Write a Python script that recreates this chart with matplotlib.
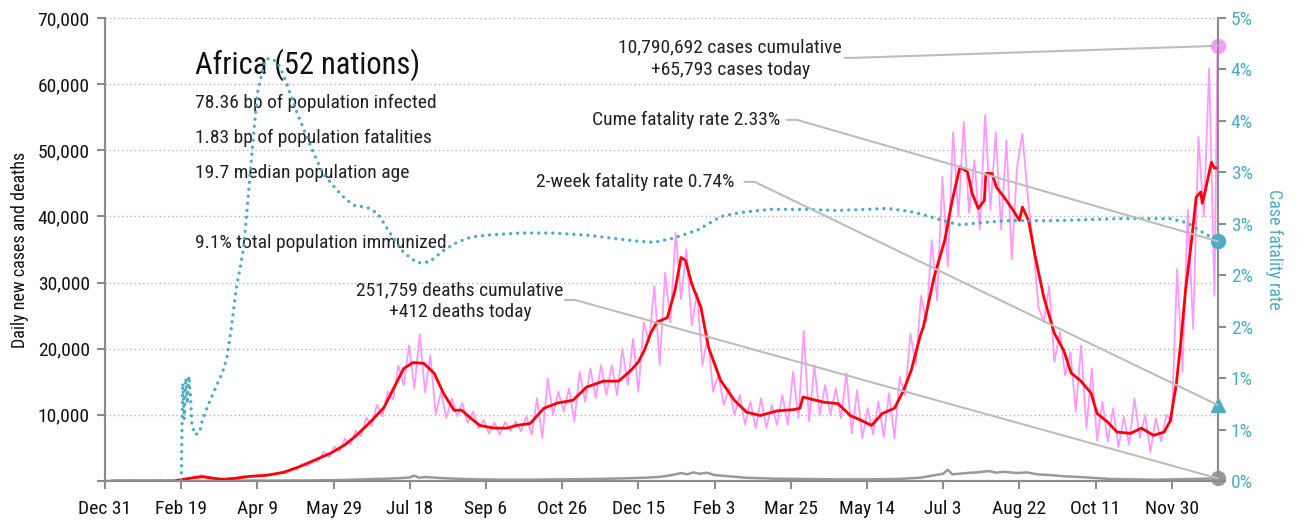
import numpy as np
import matplotlib
matplotlib.use('Agg')
import matplotlib.pyplot as plt
from matplotlib import font_manager
from matplotlib.lines import Line2D
from matplotlib.ticker import FuncFormatter

# day 0 = Dec 31 2019, last day = Dec 30 2021
start_date = np.datetime64('2019-12-31')
last_day = 730

# daily new cases, one value every 3.5 days (rows of four weeks)
cases_daily = [
    0, 0, 0, 0, 0, 0, 0, 0,
    0, 0, 0, 0, 0, 0, 0, 100,
    400, 600, 900, 700, 500, 200, 150, 200,
    350, 500, 750, 600, 800, 900, 850, 1000,
    1100, 1300, 1200, 1700, 1800, 2600, 2300, 3000,
    3000, 4400, 3600, 5200, 4500, 6400, 5500, 7600,
    6800, 9600, 8300, 11500, 9800, 13500, 12300, 17500,
    14500, 20500, 14000, 22200, 13400, 19000, 10000, 13500,
    9500, 12500, 9800, 11800, 8800, 10500, 8000, 9200,
    7200, 8800, 7000, 8900, 7600, 9000, 7500, 9800,
    7000, 12500, 6500, 15500, 10000, 13500, 10500, 14000,
    9000, 16500, 12000, 17000, 12500, 17500, 13000, 17500,
    13000, 20000, 14500, 21500, 13500, 24000, 21000, 29500,
    17500, 31500, 24000, 37500, 27500, 35000, 23500, 28500,
    17500, 22000, 13500, 16000, 11500, 14000, 10000, 13000,
    8500, 12000, 8000, 12500, 8000, 11500, 8500, 13000,
    8500, 16500, 9500, 22700, 9000, 17500, 10000, 14500,
    10000, 14000, 9500, 16300, 7200, 13700, 6500, 11000,
    7000, 12000, 6600, 13300, 6400, 15700, 13000, 22300,
    17500, 28000, 24000, 36400, 27300, 46000, 32400, 52700,
    40000, 54300, 40500, 48500, 38000, 55300, 41000, 52700,
    38000, 51500, 33500, 47500, 52500, 43000, 36000, 26300,
    24000, 29500, 18000, 22500, 16000, 19500, 10500, 20500,
    8000, 17000, 6100, 12000, 6000, 11000, 5100, 9700,
    5500, 12500, 6500, 10000, 4400, 9500, 6000, 10000,
    9000, 32000, 16500, 41000, 23000, 52000, 40000, 62400,
    28000,
]
cases_today = 65793
cases_total = 10790692

# 7-day average of new cases
avg_days = [6, 45, 50, 58, 64, 70, 77, 85, 95, 106, 117, 128, 139, 148, 157, 165,
            174, 183, 192, 196, 202, 209, 216, 222, 229, 234, 240, 246, 255, 264,
            270, 279, 288, 297, 307, 316, 327, 337, 345, 350, 354, 358, 362, 369,
            374, 378, 381, 385, 391, 396, 404, 413, 421, 430, 441, 452, 456, 458,
            463, 472, 481, 489, 496, 503, 510, 518, 524, 529, 535, 537, 544, 551,
            556, 561, 566, 569, 573, 577, 578, 582, 585, 590, 596, 600, 602, 606,
            610, 616, 623, 629, 634, 640, 647, 651, 658, 664, 673, 680, 688, 695,
            699, 703, 706, 709, 713, 716, 719, 720, 722, 726, 728, 730]
avg_cases = [0, 0, 200, 500, 650, 450, 250, 400, 700, 860, 1300, 2200, 3300, 4200,
             5400, 6900, 8900, 11100, 15200, 17000, 17900, 17800, 16300, 13300, 10700,
             10700, 9500, 8400, 8000, 8000, 8400, 8700, 11000, 11800, 12200, 14200,
             15100, 15100, 16700, 18000, 19800, 22300, 24000, 24700, 28800, 33800,
             33300, 29800, 26300, 20200, 15200, 12200, 10400, 9900, 10600, 10800,
             11000, 12700, 12400, 11900, 11700, 9900, 9200, 8400, 10200, 11000, 13700,
             16700, 22000, 23300, 30800, 36400, 42500, 47500, 46700, 43500, 41200,
             42400, 46500, 46500, 44400, 42900, 40900, 39400, 41400, 39400, 34400,
             27800, 22300, 19800, 16300, 15200, 13300, 10200, 8900, 7400, 7200, 8000,
             6900, 7400, 9100, 14700, 21200, 28800, 36400, 42900, 43700, 42000, 43900,
             48200, 47300, 47300]

# daily deaths
death_days = [0, 55, 70, 90, 110, 130, 150, 170, 185, 195, 200, 203, 206, 210, 220,
              230, 245, 260, 280, 300, 320, 340, 355, 365, 372, 378, 382, 386, 390,
              395, 400, 410, 420, 440, 460, 480, 500, 520, 535, 545, 550, 553, 556,
              565, 572, 580, 585, 590, 598, 605, 612, 620, 630, 640, 650, 660, 675,
              690, 700, 712, 722, 730]
deaths_daily = [0, 0, 20, 60, 60, 80, 120, 250, 350, 450, 550, 800, 500, 600, 450,
                350, 250, 200, 200, 250, 300, 400, 500, 650, 900, 1200, 1000, 1300,
                1100, 1250, 900, 700, 500, 350, 300, 250, 250, 300, 500, 900, 1100,
                1700, 1000, 1200, 1300, 1500, 1250, 1400, 1200, 1300, 1000, 900, 700,
                600, 450, 300, 250, 200, 250, 300, 350, 412]
deaths_total = 251759

# cumulative case fatality rate, percent
cfr_days = [0, 50, 51, 52, 53, 54, 55, 56, 57, 59, 62, 64, 68, 73, 77, 80, 83, 86,
            89, 91, 93, 96, 100, 105, 108, 112, 115, 119, 126, 135, 143, 152, 158,
            163, 172, 179, 187, 196, 205, 213, 222, 231, 240, 251, 272, 294, 316,
            338, 350, 360, 373, 389, 404, 417, 437, 458, 480, 500, 513, 528, 539,
            548, 555, 561, 574, 592, 622, 666, 699, 710, 721, 728, 730]
cfr_pct = [0, 0, 0.95, 0.6, 1.0, 0.75, 1.02, 0.85, 0.55, 0.45, 0.47, 0.6, 0.75, 0.92,
           1.05, 1.2, 1.5, 1.86, 2.1, 2.27, 2.6, 3.12, 3.77, 4.09, 4.11, 4.08, 4.02,
           3.87, 3.58, 3.25, 2.99, 2.83, 2.74, 2.68, 2.66, 2.6, 2.41, 2.22, 2.12,
           2.13, 2.24, 2.32, 2.37, 2.39, 2.41, 2.41, 2.39, 2.35, 2.33, 2.32, 2.36,
           2.44, 2.57, 2.61, 2.64, 2.64, 2.63, 2.64, 2.65, 2.62, 2.58, 2.54, 2.51,
           2.49, 2.51, 2.53, 2.53, 2.55, 2.55, 2.51, 2.41, 2.35, 2.33]
two_week_cfr = 0.74

x_tick_days = np.arange(0, 701, 50)
region = 'Africa (52 nations)'
facts = ['78.36 bp of population infected',
         '1.83 bp of population fatalities',
         '19.7 median population age']
immunized = '9.1% total population immunized'

# pick a narrow face if one is installed
names = {f.name for f in font_manager.fontManager.ttflist}
face = 'DejaVu Sans'
for cand in ['Liberation Sans Narrow', 'Roboto Condensed', 'Open Sans Condensed']:
    if cand in names:
        face = cand
        break
plt.rcParams['font.family'] = [face, 'DejaVu Sans']
if face == 'DejaVu Sans':
    plt.rcParams['font.stretch'] = 'condensed'

pink = '#ff99ff'
red = '#ff0000'
teal = '#4bacc6'
gray = '#999999'
spine = '#8c8c8c'

fig = plt.figure(figsize=(12.97, 5.22), dpi=100)
ax = fig.add_axes([105 / 1297, 1 - 481 / 522, 1112.5 / 1297, 463 / 522])
ax2 = ax.twinx()

pink_days = np.arange(len(cases_daily)) * 3.5
ax.plot(list(pink_days) + [last_day], cases_daily + [cases_today], color=pink, lw=1.3, zorder=2)
ax.plot(death_days, deaths_daily, color=gray, lw=1.8, zorder=3)
ax.plot(avg_days, avg_cases, color=red, lw=2, zorder=4)
ax2.plot(cfr_days, cfr_pct, color=teal, lw=2.4, ls=(0, (0.01, 2.1)), dash_capstyle='round', zorder=2)

ax.set_xlim(0, last_day)
ax.set_ylim(0, 70000)
ax2.set_ylim(0, 4.5)

ax.set_yticks(np.arange(0, 70001, 10000))
ax.yaxis.set_major_formatter(FuncFormatter(lambda v, p: '' if v == 0 else f'{int(v):,}'))
ax2.set_yticks(np.arange(0, 4.51, 0.5))
ax2.yaxis.set_major_formatter(FuncFormatter(lambda v, p: f'{int(v + 0.5)}%'))

ax.set_xticks(x_tick_days)
ax.set_xticklabels([(start_date + int(d)).astype(object).strftime('%b %-d') for d in x_tick_days])

ax.grid(axis='y', color='#b5b5b5', ls=(0, (1, 2)), lw=1)
ax.set_axisbelow(True)
for a in (ax, ax2):
    a.spines['top'].set_visible(False)
    for s in ('left', 'right', 'bottom'):
        a.spines[s].set_color(spine)
        a.spines[s].set_linewidth(1.5)
ax.tick_params(axis='both', colors=spine, labelcolor='#111111', labelsize=14, length=6, width=1.5)
ax.tick_params(axis='x', pad=8)
ax.tick_params(axis='y', pad=5)
ax2.tick_params(axis='y', colors=spine, labelcolor=teal, labelsize=14, length=6, width=1.5)
ax.set_ylabel('Daily new cases and deaths', fontsize=13, color='#111111', labelpad=6)
ax2.set_ylabel('Case fatality rate', fontsize=13, color=teal, rotation=270, labelpad=22)

# end-of-series markers
ax.plot(last_day, cases_today, 'o', color=pink, ms=10, clip_on=False, zorder=6)
ax.plot(last_day, deaths_daily[-1], 'o', color=gray, ms=10, clip_on=False, zorder=6)
ax2.plot(last_day, cfr_pct[-1], 'o', color=teal, ms=10, clip_on=False, zorder=6)
ax2.plot(last_day, two_week_cfr, '^', color=teal, ms=10, clip_on=False, zorder=6)

# region summary
ax.text(0.081, 0.900, region, transform=ax.transAxes, fontsize=22, va='center', color='#111111')
for i, line in enumerate(facts):
    ax.text(0.081, 0.816 - i * 0.0755, line, transform=ax.transAxes, fontsize=14, va='center', color='#222222')
ax.text(0.081, 0.514, immunized, transform=ax.transAxes, fontsize=14, va='center', color='#222222')

ax.text(0.562, 0.9125, f'{cases_total:,} cases cumulative\n+{cases_today:,} cases today',
        transform=ax.transAxes, fontsize=14, ha='center', va='center', color='#222222', linespacing=1.3)
ax.text(0.6067, 0.780, f'Cume fatality rate {cfr_pct[-1]:.2f}%', transform=ax.transAxes,
        fontsize=14, ha='right', va='center', color='#222222')
ax.text(0.566, 0.646, f'2-week fatality rate {two_week_cfr:.2f}%', transform=ax.transAxes,
        fontsize=14, ha='right', va='center', color='#222222')
ax.text(0.319, 0.388, f'{deaths_total:,} deaths cumulative\n+{deaths_daily[-1]:,} deaths today',
        transform=ax.transAxes, fontsize=14, ha='center', va='center', color='#222222', linespacing=1.3)


def connector(frac_xy, target, axis):
    # short flat stub from the label, then straight to the end point
    p0 = ax.transAxes.transform(frac_xy)
    p1 = p0 + np.array([10.0, 0.0])
    p2 = axis.transData.transform(target)
    pts = fig.transFigure.inverted().transform(np.vstack([p0, p1, p2]))
    fig.add_artist(Line2D(pts[:, 0], pts[:, 1], transform=fig.transFigure, color='#bdbdbd', lw=1.5, zorder=1))


connector((0.665, 0.914), (last_day, cases_today), ax)
connector((0.613, 0.780), (last_day, cfr_pct[-1]), ax2)
connector((0.575, 0.646), (last_day, two_week_cfr), ax2)
connector((0.4135, 0.391), (last_day, deaths_daily[-1]), ax)

fig.savefig('out.png', dpi=100)
